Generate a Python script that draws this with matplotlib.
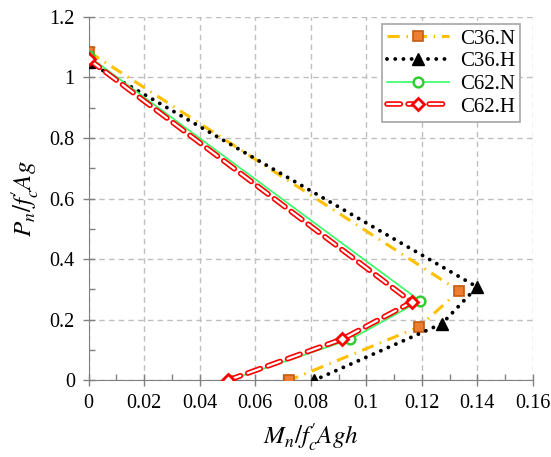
import numpy as np
import matplotlib
matplotlib.use('Agg')
import matplotlib.pyplot as plt
import matplotlib.patheffects as pe
from matplotlib.ticker import MultipleLocator
from matplotlib.legend_handler import HandlerTuple

plt.rcParams['font.family'] = 'Liberation Serif'
plt.rcParams['mathtext.fontset'] = 'stix'

# Interaction curve points (M/f'c Ag h, P/f'c Ag)
c36n_m = [0.0, 0.1334, 0.1190, 0.0723]
c36n_p = [1.085, 0.295, 0.176, 0.0]
c36h_m = [0.0, 0.1399, 0.1273, 0.0813]
c36h_p = [1.05, 0.308, 0.187, 0.0]
c62n_m = [0.0, 0.1194, 0.0942, 0.0507]
c62n_p = [1.07, 0.262, 0.135, 0.0]
c62h_m = [0.0, 0.1164, 0.0914, 0.0502]
c62h_p = [1.06, 0.258, 0.136, 0.0]

x_ticks = [0, 0.02, 0.04, 0.06, 0.08, 0.1, 0.12, 0.14, 0.16]
x_labels = ['0', '0.02', '0.04', '0.06', '0.08', '0.1', '0.12', '0.14', '0.16']
y_ticks = [0, 0.2, 0.4, 0.6, 0.8, 1.0, 1.2]
y_labels = ['0', '0.2', '0.4', '0.6', '0.8', '1', '1.2']

fig = plt.figure(figsize=(5.51, 4.57), dpi=100)
ax = fig.add_axes([0.161, 0.168, 0.806, 0.795])

h1, = ax.plot(c36n_m, c36n_p, color='#FFC000', lw=2.2, linestyle=(0, (4, 2.2, 0.5, 2.2)),
              marker='s', ms=7, mfc='#ED7D31', mec='#C55A11', mew=1.2, zorder=3)
h2, = ax.plot(c36h_m, c36h_p, color='black', lw=2.8, linestyle=(0, (0.01, 2.1)), dash_capstyle='round',
              marker='^', ms=8, mfc='black', mec='black', zorder=3)
h3, = ax.plot(c62n_m, c62n_p, color='#33FF66', lw=1.2,
              marker='o', ms=7, mfc='white', mec='#33CC33', mew=1.8, zorder=3)
h4a, = ax.plot(c62h_m, c62h_p, color='white', lw=1.6, linestyle=(0, (6, 3.5)), dash_capstyle='round',
               zorder=4, path_effects=[pe.Stroke(linewidth=4.0, foreground='red'), pe.Normal()])
h4b, = ax.plot(c62h_m, c62h_p, linestyle='none', marker='D', ms=6, mfc='white', mec='red', mew=2.0, zorder=5)

ax.set_xlim(0, 0.16)
ax.set_ylim(0, 1.2)
ax.set_xticks(x_ticks)
ax.set_xticklabels(x_labels)
ax.set_yticks(y_ticks)
ax.set_yticklabels(y_labels)
ax.xaxis.set_minor_locator(MultipleLocator(0.01))
ax.yaxis.set_minor_locator(MultipleLocator(0.1))

ax.grid(True, which='major', linestyle=(0, (4, 3)), color='#BFBFBF', lw=1)
ax.tick_params(which='major', direction='inout', length=8, color='#808080', labelsize=14.5, width=1, pad=6)
ax.tick_params(which='minor', direction='in', length=4, color='#808080', width=1)
ax.spines[['top', 'right']].set_visible(False)
ax.spines[['left', 'bottom']].set_color('#808080')

ax.set_xlabel(r"$M_n/f_c^{\prime}Agh$", fontsize=18, labelpad=6)
ax.set_ylabel(r"$P_n/f_c^{\prime}Ag$", fontsize=18, labelpad=6)

leg = ax.legend([h1, h2, h3, (h4a, h4b)], ['C36.N', 'C36.H', 'C62.N', 'C62.H'],
                handler_map={tuple: HandlerTuple(ndivide=1)},
                loc='upper right', bbox_to_anchor=(0.944, 0.948), bbox_transform=fig.transFigure,
                fontsize=15, fancybox=False, edgecolor='#A6A6A6',
                framealpha=1, handlelength=3.0, borderpad=0.25, labelspacing=0.15,
                handletextpad=0.5, borderaxespad=0)
leg.get_frame().set_linewidth(1.2)

fig.savefig('out.png', dpi=100)
